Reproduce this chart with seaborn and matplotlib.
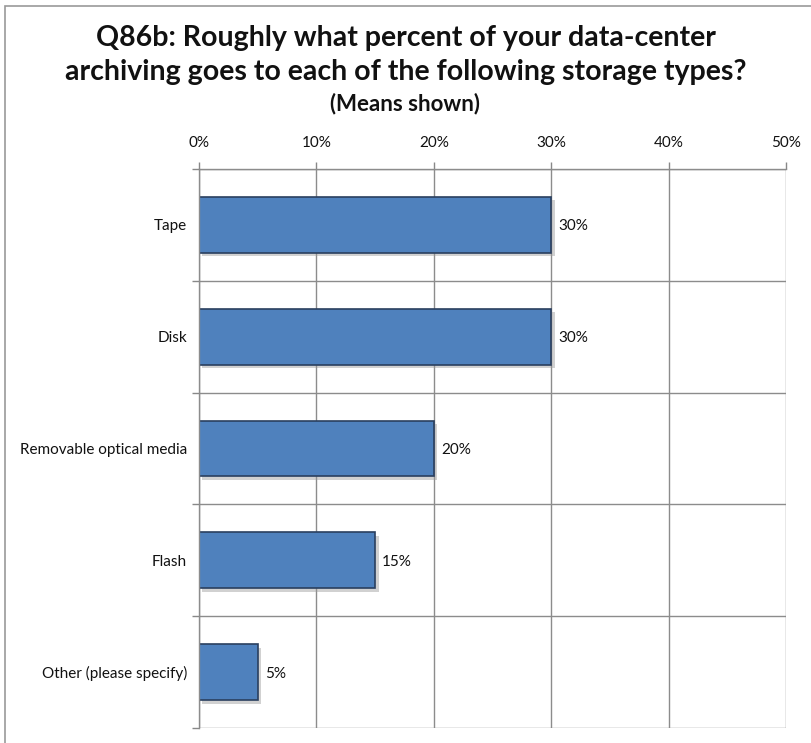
import matplotlib
matplotlib.use("Agg")
import matplotlib.pyplot as plt
import matplotlib.patheffects as pe
from matplotlib.patches import Rectangle
from matplotlib.ticker import FuncFormatter, MultipleLocator
import seaborn as sns
import pandas as pd
import numpy as np

categories = ["Tape", "Disk", "Removable optical media", "Flash", "Other (please specify)"]
means = [30, 30, 20, 15, 5]
value_labels = ["30%", "30%", "20%", "15%", "5%"]

df = pd.DataFrame({"category": categories, "mean": means})

sns.set_style("white")
plt.rcParams["font.family"] = ["Lato", "DejaVu Sans"]

fig = plt.figure(figsize=(8.11, 7.43), dpi=100)
ax = fig.add_axes([199 / 811, 1 - 728 / 743, (786 - 199) / 811, (728 - 169) / 743])

sns.barplot(data=df, x="mean", y="category", orient="h", color="#4F81BD",
            saturation=1, width=0.5, edgecolor="#2A3F5F", linewidth=1.2, ax=ax)

# soft drop shadow like the office chart
for bar in ax.patches:
    bar.set_path_effects([pe.SimplePatchShadow(offset=(2.5, -2.5), shadow_rgbFace="#999999", alpha=0.45),
                          pe.Normal()])

for bar, lab in zip(ax.patches, value_labels):
    ax.text(bar.get_width() + 0.6, bar.get_y() + bar.get_height() / 2, lab,
            va="center_baseline", ha="left", fontsize=11, color="#111111")

ax.set_xlim(0, 50)
ax.set_ylim(4.5, -0.5)
ax.xaxis.set_major_locator(MultipleLocator(10))
ax.xaxis.set_major_formatter(FuncFormatter(lambda v, p: f"{int(v)}%"))
ax.xaxis.tick_top()
ax.tick_params(axis="x", which="major", top=True, length=5, width=1, color="#888888",
               labelsize=11, pad=9, labelcolor="#111111")
ax.tick_params(axis="y", which="major", left=False, labelsize=11, pad=5, labelcolor="#111111")
ax.set_yticks(np.arange(-0.5, 5, 1), minor=True)
ax.tick_params(axis="y", which="minor", left=True, length=5, width=1, color="#888888")

ax.grid(True, axis="x", which="major", color="#8c8c8c", linewidth=1)
ax.grid(True, axis="y", which="minor", color="#8c8c8c", linewidth=1)
ax.set_axisbelow(True)
for s in ["top", "left"]:
    ax.spines[s].set_color("#8c8c8c")
    ax.spines[s].set_linewidth(1)
for s in ["right", "bottom"]:
    ax.spines[s].set_visible(False)
ax.set_xlabel("")
ax.set_ylabel("")

fig.text(0.5, 1 - 38 / 743, "Q86b: Roughly what percent of your data-center",
         ha="center", va="center", fontsize=20.5, fontweight="bold", color="#111111")
fig.text(0.5, 1 - 72 / 743, "archiving goes to each of the following storage types?",
         ha="center", va="center", fontsize=20.5, fontweight="bold", color="#111111")
fig.text(0.5, 1 - 104 / 743, "(Means shown)",
         ha="center", va="center", fontsize=16, fontweight="bold", color="#111111")

fig.patches.append(Rectangle((5 / 811, -0.1), 1.2, 1 - 6 / 743 + 0.1, transform=fig.transFigure,
                             fill=False, edgecolor="#999999", linewidth=1.2))

fig.savefig("out.png", dpi=100)
